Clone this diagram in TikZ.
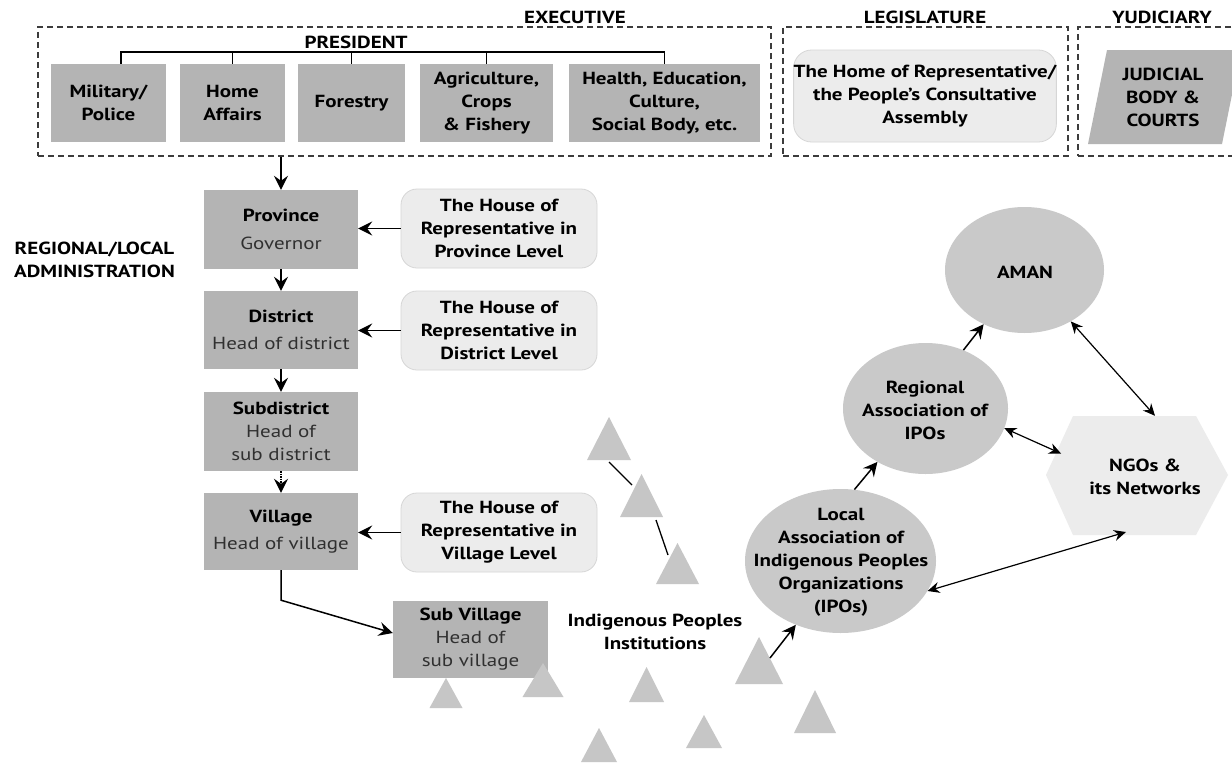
\documentclass[tikz,border=0pt]{standalone}
\usepackage{fontspec}
\setmainfont{PT Sans}[FakeStretch=1.2]
\usetikzlibrary{arrows.meta,calc,shapes.geometric}
\definecolor{boxgray}{HTML}{B4B4B4}
\definecolor{paleb}{HTML}{ECECEC}
\definecolor{paleedge}{HTML}{D6D6D6}
\definecolor{ellgray}{HTML}{C9C9C9}
\definecolor{trigray}{HTML}{C6C6C6}
\definecolor{dashgray}{HTML}{3C3C3C}
\definecolor{subtext}{HTML}{303030}
\newcommand\plaintxt[1]{{\mdseries\color{subtext}#1}}
\newcommand\ipitri[5]{\fill[trigray] (#2,#3) -- ++(-#4,#5) -- ++(2*#4,0) -- cycle; \coordinate (#1) at (#2,#3);}
\begin{document}
\begin{tikzpicture}[x=1pt,y=-1pt,
 font=\fontsize{17.5}{23}\selectfont\bfseries,
 darkbox/.style={fill=boxgray,inner sep=0pt,align=center},
 palebox/.style={fill=paleb,draw=paleedge,line width=0.8pt,rounded corners=16pt,inner sep=0pt,align=center},
 dashbox/.style={draw=dashgray,line width=1.4pt,dash pattern=on 6pt off 4pt,inner sep=0pt},
 lbl/.style={inner sep=0pt,align=center},
 arr/.style={line width=1.5pt,-{Stealth[length=14pt,width=14pt,inset=5pt]}},
 darr/.style={line width=1.2pt,{Stealth[length=12pt,width=11pt,inset=4pt]}-{Stealth[length=12pt,width=11pt,inset=4pt]}},
 tree/.style={line width=1.3pt},
 oval/.style={ellipse,fill=ellgray,inner sep=0pt},
]
\fill[white] (0,0) rectangle (1232,763);
\useasboundingbox (0,0) rectangle (1232,763);

% ---- top: three branches
\node[dashbox,minimum width=733pt,minimum height=129pt] (exec) at (404.5,91.5) {};
\node[dashbox,minimum width=285pt,minimum height=129pt] (legis) at (925.5,91.5) {};
\node[dashbox,minimum width=167pt,minimum height=129pt] (yud) at (1161.5,91.5) {};
\node[lbl,anchor=base] (exect) at (575,23) {EXECUTIVE};
\node[lbl,anchor=base] (legt) at (925,23) {LEGISLATURE};
\node[lbl,anchor=base] (yudt) at (1162,23) {YUDICIARY};
\node[lbl,anchor=base] (pres) at (356,48) {PRESIDENT};

\node[darkbox,minimum width=115pt,minimum height=78pt] (mil) at (108.5,103) {Military/\\Police};
\node[darkbox,minimum width=105pt,minimum height=78pt] (hom) at (232.5,103) {Home\\Affairs};
\node[darkbox,minimum width=107pt,minimum height=78pt] (for) at (351.5,103) {Forestry};
\node[darkbox,minimum width=133pt,minimum height=78pt] (agr) at (486.5,103) {Agriculture,\\Crops\\\& Fishery};
\node[darkbox,minimum width=191pt,minimum height=78pt] (hea) at (664.5,103) {Health, Education,\\Culture,\\Social Body, etc.};

\draw[tree] ([xshift=12.5pt]mil.north) |- (hea.north |- 0,52) -- (hea.north);
\draw[tree] (hom.north) -- (hom.north |- 0,52);
\draw[tree] (for.north) -- (for.north |- 0,52);
\draw[tree] (agr.north) -- (agr.north |- 0,52);

\node[palebox,rounded corners=18pt,minimum width=262pt,minimum height=92pt] (hor) at (925,96) {The Home of Representative/\\the People’s Consultative\\Assembly};

\fill[boxgray] (1088,144) -- (1107,50) -- (1241,50) -- (1222,144) -- cycle;
\node[lbl] (jud) at (1163,97.5) {JUDICIAL\\BODY \&\\COURTS};

% ---- regional / local administration
\node[lbl] (reglab) at (94.5,260) {REGIONAL/LOCAL\\ADMINISTRATION};

\node[darkbox,minimum width=154pt,minimum height=79pt] (prov) at (281,229.5) {Province\\[5pt]\plaintxt{Governor}};
\node[darkbox,minimum width=154pt,minimum height=78pt] (dist) at (281,330) {District\\[4pt]\plaintxt{Head of district}};
\node[darkbox,minimum width=154pt,minimum height=79pt] (subd) at (281,431.5) {Subdistrict\\\plaintxt{Head of}\\\plaintxt{sub district}};
\node[darkbox,minimum width=154pt,minimum height=77pt] (vil) at (281,531.5) {Village\\[4pt]\plaintxt{Head of village}};
\node[darkbox,minimum width=155pt,minimum height=77pt] (subv) at (470.5,639.5) {Sub Village\\\plaintxt{Head of}\\\plaintxt{sub village}};

\node[palebox,minimum width=196pt,minimum height=79pt] (hprov) at (499,228.5) {The House of\\Representative in\\Province Level};
\node[palebox,minimum width=196pt,minimum height=79pt] (hdist) at (499,330.5) {The House of\\Representative in\\District Level};
\node[palebox,minimum width=196pt,minimum height=79pt] (hvil) at (499,532.5) {The House of\\Representative in\\Village Level};

\draw[arr] (exec.south -| prov.north) -- (prov.north);
\draw[arr] (prov.south) -- (dist.north);
\draw[arr] (dist.south) -- (subd.north);
\draw[arr,densely dotted] (subd.south) -- (vil.north);
\draw[arr] (hprov.west) -- (hprov.west -| prov.east);
\draw[arr] (hdist.west) -- (hdist.west -| dist.east);
\draw[arr] (hvil.west) -- (hvil.west -| vil.east);
\draw[arr] (vil.south) -- ++(0,30) -- ([yshift=6.5pt]subv.west);

% ---- indigenous peoples institutions (triangles)
\ipitri{t1}{609}{417}{22}{43}
\ipitri{t2}{641.5}{474}{21.5}{43}
\ipitri{t3}{677.5}{543}{21.5}{41}
\ipitri{t4}{759}{637}{24}{47}
\ipitri{t5}{646.5}{667}{17.5}{35}
\ipitri{t6}{815}{690}{21}{43}
\ipitri{t7}{704}{715}{18}{33}
\ipitri{t8}{599}{728}{18}{34}
\ipitri{t9}{446}{678}{16.5}{30}
\ipitri{t10}{543}{663}{20.5}{34}
\draw[line width=1.3pt] ($(t1)+(0,45)$) -- ($(t2)+(-9.5,11)$);
\draw[line width=1.3pt] ($(t2)+(14.5,46)$) -- ($(t3)+(-9.5,12)$);
\node[lbl] (ipi) at (655,631.5) {Indigenous Peoples\\Institutions};

% ---- organisations
\node[oval,minimum width=191pt,minimum height=144pt] (loc) at (840.5,561) {};
\node[lbl] (loct) at (841,562) {Local\\Association of\\Indigenous Peoples\\Organizations\\(IPOs)};
\node[oval,minimum width=165pt,minimum height=131pt] (reg) at (925.5,408.5) {};
\node[lbl] (regt) at (925,410) {Regional\\Association of\\IPOs};
\node[oval,minimum width=159pt,minimum height=126pt] (aman) at (1024.5,270) {};
\node[lbl] (amant) at (1025,272) {AMAN};

\fill[paleb] (1046,475) -- (1073,416) -- (1196,416) -- (1228,475) -- (1196,535) -- (1073,535) -- cycle;
\node[inner sep=0pt,minimum width=182pt,minimum height=119pt] (ngo) at (1137,475.5) {};
\node[lbl] (ngot) at (1145,477) {NGOs \&\\its Networks};

\draw[arr] ($(t4)+(11,21)$) -- (loc.-125);
\draw[arr] (loc.79) -- (reg.-132);
\draw[arr] (reg.57) -- (aman.-127);
\draw[darr] (aman.-48) -- ([xshift=18pt]ngo.north);
\draw[darr] (reg.-14) -- ($(ngo.center)+(-76,-22)$);
\draw[darr] (loc.-19) -- ($(ngo.center)+(-11,56.5)$);
\end{tikzpicture}
\end{document}
